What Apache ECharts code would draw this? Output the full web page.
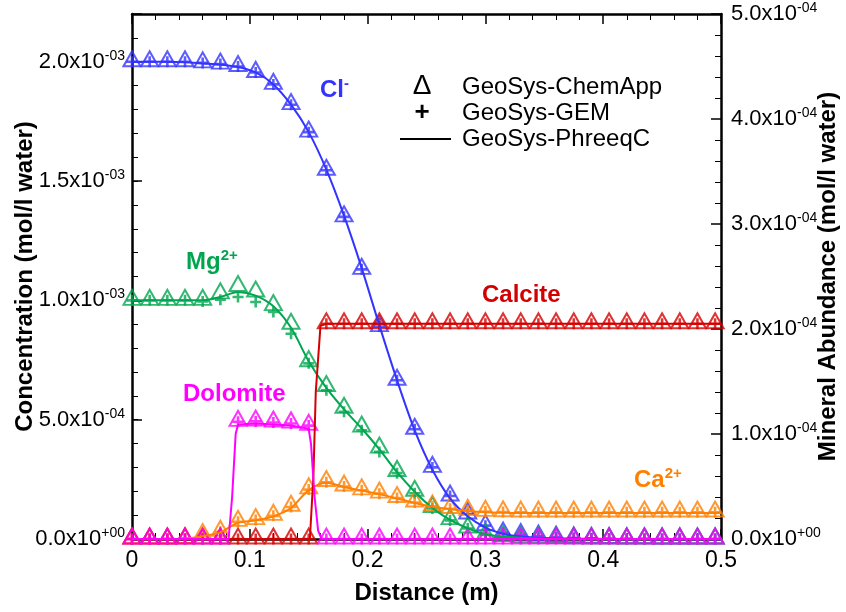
<!DOCTYPE html>
<html>
<head>
<meta charset="utf-8">
<script src="https://cdn.jsdelivr.net/npm/echarts@6/dist/echarts.min.js"></script>
<style>html,body{margin:0;padding:0;background:#fff}#c{width:846px;height:612px}</style>
</head>
<body>
<div id="c"></div>
<script>
// Distance grid of the marker series (m)
const xs = [0, 0.015, 0.03, 0.045, 0.06, 0.075, 0.09, 0.105, 0.12, 0.135, 0.15, 0.165, 0.18, 0.195, 0.21, 0.225, 0.24, 0.255, 0.27, 0.285, 0.3, 0.315, 0.33, 0.345, 0.36, 0.375, 0.39, 0.405, 0.42, 0.435, 0.45, 0.465, 0.48, 0.495];
// Distance grid of the PhreeqC lines (m)
const lineXs = [0, 0.015, 0.03, 0.045, 0.06, 0.075, 0.09, 0.105, 0.12, 0.135, 0.15, 0.165, 0.18, 0.195, 0.21, 0.225, 0.24, 0.255, 0.27, 0.285, 0.3, 0.315, 0.33, 0.345, 0.36, 0.375, 0.39, 0.405, 0.42, 0.435, 0.45, 0.465, 0.48, 0.495, 0.5];

// Concentrations, in 1e-3 mol/l water (left axis)
const clChemApp = [2.0, 2.0, 2.0, 2.0, 1.995, 1.99, 1.98, 1.955, 1.905, 1.82, 1.705, 1.545, 1.35, 1.13, 0.89, 0.665, 0.46, 0.30, 0.18, 0.105, 0.056, 0.025, 0.018, 0.012, 0.008, 0.005, 0.003, 0.002, 0.001, 0.001, 0, 0, 0, 0];
const clGEM     = [2.0, 2.0, 2.0, 2.0, 1.995, 1.99, 1.98, 1.955, 1.905, 1.82, 1.705, 1.545, 1.35, 1.13, 0.89, 0.665, 0.46, 0.30, 0.18, 0.105, 0.056, 0.025, 0.018, 0.012, 0.008, 0.005, 0.003, 0.002, 0.001, 0.001, 0, 0, 0, 0];
const clPhreeqC = [2.0, 2.0, 2.0, 1.998, 1.993, 1.988, 1.978, 1.955, 1.905, 1.82, 1.705, 1.548, 1.355, 1.135, 0.895, 0.665, 0.455, 0.29, 0.17, 0.095, 0.048, 0.022, 0.01, 0.005, 0.003, 0.002, 0.001, 0, 0, 0, 0, 0, 0, 0, 0];

const mgChemApp = [1.0, 1.0, 1.0, 1.0, 1.0, 1.027, 1.058, 1.035, 0.978, 0.90, 0.743, 0.639, 0.548, 0.469, 0.381, 0.283, 0.20, 0.132, 0.081, 0.046, 0.018, 0.01, 0.005, 0.003, 0.002, 0.001, 0, 0, 0, 0, 0, 0, 0, 0];
const mgGEM     = [1.0, 1.0, 1.0, 1.0, 0.995, 1.003, 1.014, 0.993, 0.951, 0.86, 0.736, 0.623, 0.533, 0.456, 0.365, 0.276, 0.192, 0.128, 0.078, 0.044, 0.017, 0.009, 0.005, 0.003, 0.002, 0.001, 0, 0, 0, 0, 0, 0, 0, 0];
const mgPhreeqC = [1.0, 1.0, 1.0, 1.0, 1.0, 1.014, 1.035, 1.02, 0.975, 0.885, 0.745, 0.633, 0.543, 0.463, 0.376, 0.28, 0.198, 0.13, 0.08, 0.045, 0.02, 0.01, 0.005, 0.002, 0.001, 0, 0, 0, 0, 0, 0, 0, 0, 0, 0];

const caChemApp = [0, 0, 0, 0.002, 0.018, 0.032, 0.074, 0.081, 0.099, 0.137, 0.21, 0.241, 0.222, 0.206, 0.192, 0.174, 0.155, 0.138, 0.128, 0.12, 0.116, 0.114, 0.113, 0.113, 0.113, 0.113, 0.113, 0.113, 0.113, 0.113, 0.113, 0.113, 0.113, 0.113];
const caGEM     = [0, 0, 0, 0.002, 0.016, 0.03, 0.072, 0.08, 0.097, 0.134, 0.207, 0.238, 0.22, 0.204, 0.19, 0.172, 0.153, 0.137, 0.127, 0.119, 0.115, 0.113, 0.112, 0.112, 0.112, 0.112, 0.112, 0.112, 0.112, 0.112, 0.112, 0.112, 0.112, 0.112];
const caPhreeqC = [0, 0, 0, 0.001, 0.012, 0.028, 0.068, 0.078, 0.095, 0.13, 0.205, 0.236, 0.218, 0.203, 0.188, 0.17, 0.151, 0.135, 0.125, 0.117, 0.112, 0.11, 0.109, 0.109, 0.109, 0.109, 0.109, 0.109, 0.109, 0.109, 0.109, 0.109, 0.109, 0.109, 0.109];

// Mineral abundance, in 1e-4 mol/l water (right axis)
const calciteChemApp = [0, 0, 0, 0, 0, 0, 0, 0, 0, 0, 0, 2.05, 2.05, 2.05, 2.05, 2.05, 2.05, 2.05, 2.05, 2.05, 2.05, 2.05, 2.05, 2.05, 2.05, 2.05, 2.05, 2.05, 2.05, 2.05, 2.05, 2.05, 2.05, 2.05];
const calciteGEM     = [0, 0, 0, 0, 0, 0, 0, 0, 0, 0, 0, 2.05, 2.05, 2.05, 2.05, 2.05, 2.05, 2.05, 2.05, 2.05, 2.05, 2.05, 2.05, 2.05, 2.05, 2.05, 2.05, 2.05, 2.05, 2.05, 2.05, 2.05, 2.05, 2.05];
const calciteLineX   = [0, 0.151, 0.154, 0.156, 0.16, 0.165, 0.5];
const calcitePhreeqC = [0, 0, 0.6, 1.4, 2.03, 2.05, 2.05];

const dolomiteChemApp = [0, 0, 0, 0, 0, 0, 1.12, 1.124, 1.114, 1.105, 1.083, 0, 0, 0, 0, 0, 0, 0, 0, 0, 0, 0, 0, 0, 0, 0, 0, 0, 0, 0, 0, 0, 0, 0];
const dolomiteGEM     = [0, 0, 0, 0, 0, 0, 1.117, 1.12, 1.11, 1.1, 1.08, 0, 0, 0, 0, 0, 0, 0, 0, 0, 0, 0, 0, 0, 0, 0, 0, 0, 0, 0, 0, 0, 0, 0];
const dolomiteLineX   = [0, 0.082, 0.085, 0.088, 0.09, 0.105, 0.12, 0.135, 0.15, 0.152, 0.155, 0.158, 0.161, 0.5];
const dolomitePhreeqC = [0, 0, 0.4, 1.0, 1.09, 1.1, 1.09, 1.08, 1.05, 0.9, 0.4, 0.08, 0, 0];

const xTicks = [0, 0.1, 0.2, 0.3, 0.4, 0.5];

const COL = { cl: '#3333ff', mg: '#00a64f', ca: '#ff8000', calcite: '#d40000', dolomite: '#ff00ff' };
const TRI = 'path://M0,10L5,0L10,10Z';
const PLUS = 'path://M5,0L5,10M0,5L10,5';
const FONT = '"Liberation Sans", Arial, sans-serif';

function pairs(x, y, scale) { return x.map((v, i) => [v, y[i] * scale]); }

function sci(v) {
  if (Math.abs(v) < 1e-12) return '{m|0.0x10}{s|+00}';
  const e = Math.floor(Math.log10(v) + 1e-9);
  const m = v / Math.pow(10, e);
  const es = (e < 0 ? '-' : '+') + String(Math.abs(e)).padStart(2, '0');
  return '{m|' + m.toFixed(1) + 'x10}{s|' + es + '}';
}
const sciRich = {
  m: { fontSize: 22, color: '#000', fontFamily: FONT, lineHeight: 26 },
  s: { fontSize: 14, color: '#000', fontFamily: FONT, verticalAlign: 'top', lineHeight: 14 }
};

function speciesSeries(name, color, axis, scale, chem, gem, lx, ly, smooth) {
  return [
    { name: name + ' PhreeqC', type: 'line', yAxisIndex: axis, data: pairs(lx, ly, scale), showSymbol: false,
      smooth: smooth, lineStyle: { color: color, width: 2 }, silent: true },
    { name: name + ' ChemApp', type: 'scatter', yAxisIndex: axis, data: pairs(xs, chem, scale), symbol: TRI,
      symbolSize: [17, 15], symbolOffset: [0, -3],
      itemStyle: { color: 'rgba(0,0,0,0)', borderColor: color, borderWidth: 2 }, silent: true },
    { name: name + ' GEM', type: 'scatter', yAxisIndex: axis, data: pairs(xs, gem, scale), symbol: PLUS,
      symbolSize: [11, 11],
      itemStyle: { color: 'rgba(0,0,0,0)', borderColor: color, borderWidth: 2.6 }, silent: true }
  ];
}

const series = [].concat(
  speciesSeries('Cl', COL.cl, 0, 1e-3, clChemApp, clGEM, lineXs, clPhreeqC, 0.3),
  speciesSeries('Mg', COL.mg, 0, 1e-3, mgChemApp, mgGEM, lineXs, mgPhreeqC, 0.3),
  speciesSeries('Ca', COL.ca, 0, 1e-3, caChemApp, caGEM, lineXs, caPhreeqC, 0.3),
  speciesSeries('Calcite', COL.calcite, 1, 1e-4, calciteChemApp, calciteGEM, calciteLineX, calcitePhreeqC, false),
  speciesSeries('Dolomite', COL.dolomite, 1, 1e-4, dolomiteChemApp, dolomiteGEM, dolomiteLineX, dolomitePhreeqC, false)
);

const axisLine = { show: true, onZero: false, lineStyle: { color: '#000', width: 2.5 } };
const majorTick = { show: true, inside: true, length: 10, lineStyle: { color: '#000', width: 1.5 } };
const minorTick = { show: true, splitNumber: 5, length: 6, lineStyle: { color: '#000', width: 1 } };
const nameStyle = { fontSize: 24, fontWeight: 'bold', color: '#000', fontFamily: FONT };

const option = {
  animation: false,
  backgroundColor: '#fff',
  grid: { left: 132, right: 125, top: 14, bottom: 73, outerBoundsMode: 'none', containLabel: false },
  xAxis: [
    { type: 'value', position: 'bottom', min: xTicks[0], max: xTicks[xTicks.length - 1], interval: 0.1,
      axisLine: axisLine, axisTick: majorTick, minorTick: minorTick, splitLine: { show: false },
      axisLabel: { fontSize: 23, color: '#000', fontFamily: FONT, margin: 10, formatter: v => String(+v.toFixed(1)) },
      name: 'Distance (m)', nameLocation: 'middle', nameGap: 42, nameMoveOverlap: false, nameTextStyle: nameStyle },
    { type: 'value', position: 'top', min: xTicks[0], max: xTicks[xTicks.length - 1], interval: 0.1,
      axisLine: axisLine, axisTick: majorTick, minorTick: minorTick, splitLine: { show: false },
      axisLabel: { show: false } }
  ],
  yAxis: [
    { type: 'value', position: 'left', min: 0, max: 2.2e-3, interval: 5e-4,
      axisLine: axisLine, axisTick: majorTick, splitLine: { show: false },
      axisLabel: { margin: 7, formatter: v => (v > 2.05e-3 ? '' : sci(v)), rich: sciRich },
      name: 'Concentration (mol/l water)', nameLocation: 'middle', nameGap: 95, nameMoveOverlap: false, nameTextStyle: nameStyle },
    { type: 'value', position: 'right', min: 0, max: 5e-4, interval: 1e-4,
      axisLine: axisLine, axisTick: majorTick, minorTick: minorTick, splitLine: { show: false },
      axisLabel: { margin: 10, formatter: v => sci(v), rich: sciRich },
      name: 'Mineral Abundance (mol/l water)', nameLocation: 'middle', nameGap: 95, nameMoveOverlap: false, nameTextStyle: nameStyle },
    { type: 'value', position: 'left', min: 0, max: 2.2e-3, interval: 1e-4,
      axisLine: { show: false, onZero: false }, axisTick: { show: true, inside: true, length: 6, lineStyle: { color: '#000', width: 1 } },
      splitLine: { show: false }, axisLabel: { show: false } }
  ],
  series: series,
  graphic: [
    { type: 'text', x: 320, y: 76, z: 100, style: { text: '{a|Cl}{b|-}', rich: {
        a: { fontSize: 24, fontWeight: 'bold', fill: COL.cl, fontFamily: FONT, lineHeight: 28 },
        b: { fontSize: 15, fontWeight: 'bold', fill: COL.cl, fontFamily: FONT, verticalAlign: 'top', lineHeight: 14 } } } },
    { type: 'text', x: 186, y: 248, z: 100, style: { text: '{a|Mg}{b|2+}', rich: {
        a: { fontSize: 24, fontWeight: 'bold', fill: COL.mg, fontFamily: FONT, lineHeight: 28 },
        b: { fontSize: 15, fontWeight: 'bold', fill: COL.mg, fontFamily: FONT, verticalAlign: 'top', lineHeight: 14 } } } },
    { type: 'text', x: 482, y: 283, z: 100, style: { text: 'Calcite', fontSize: 24, fontWeight: 'bold', fill: COL.calcite, fontFamily: FONT } },
    { type: 'text', x: 183, y: 382, z: 100, style: { text: 'Dolomite', fontSize: 24, fontWeight: 'bold', fill: COL.dolomite, fontFamily: FONT } },
    { type: 'text', x: 634, y: 466, z: 100, style: { text: '{a|Ca}{b|2+}', rich: {
        a: { fontSize: 24, fontWeight: 'bold', fill: COL.ca, fontFamily: FONT, lineHeight: 28 },
        b: { fontSize: 15, fontWeight: 'bold', fill: COL.ca, fontFamily: FONT, verticalAlign: 'top', lineHeight: 14 } } } },
    // legend
    { type: 'text', x: 422, y: 86, z: 100, style: { text: 'Δ', fontSize: 28, fill: '#000', fontFamily: FONT, align: 'center', verticalAlign: 'middle' } },
    { type: 'text', x: 462, y: 87, z: 100, style: { text: 'GeoSys-ChemApp', fontSize: 24, fill: '#000', fontFamily: FONT, verticalAlign: 'middle' } },
    { type: 'text', x: 422, y: 113, z: 100, style: { text: '+', fontSize: 26, fontWeight: 'bold', fill: '#000', fontFamily: FONT, align: 'center', verticalAlign: 'middle' } },
    { type: 'text', x: 462, y: 113, z: 100, style: { text: 'GeoSys-GEM', fontSize: 24, fill: '#000', fontFamily: FONT, verticalAlign: 'middle' } },
    { type: 'line', z: 100, shape: { x1: 400, y1: 139, x2: 451, y2: 139 }, style: { stroke: '#000', lineWidth: 2 } },
    { type: 'text', x: 462, y: 139, z: 100, style: { text: 'GeoSys-PhreeqC', fontSize: 24, fill: '#000', fontFamily: FONT, verticalAlign: 'middle' } }
  ]
};

const chart = echarts.init(document.getElementById('c'), null, { renderer: 'canvas' });
chart.setOption(option);
</script>
</body>
</html>
